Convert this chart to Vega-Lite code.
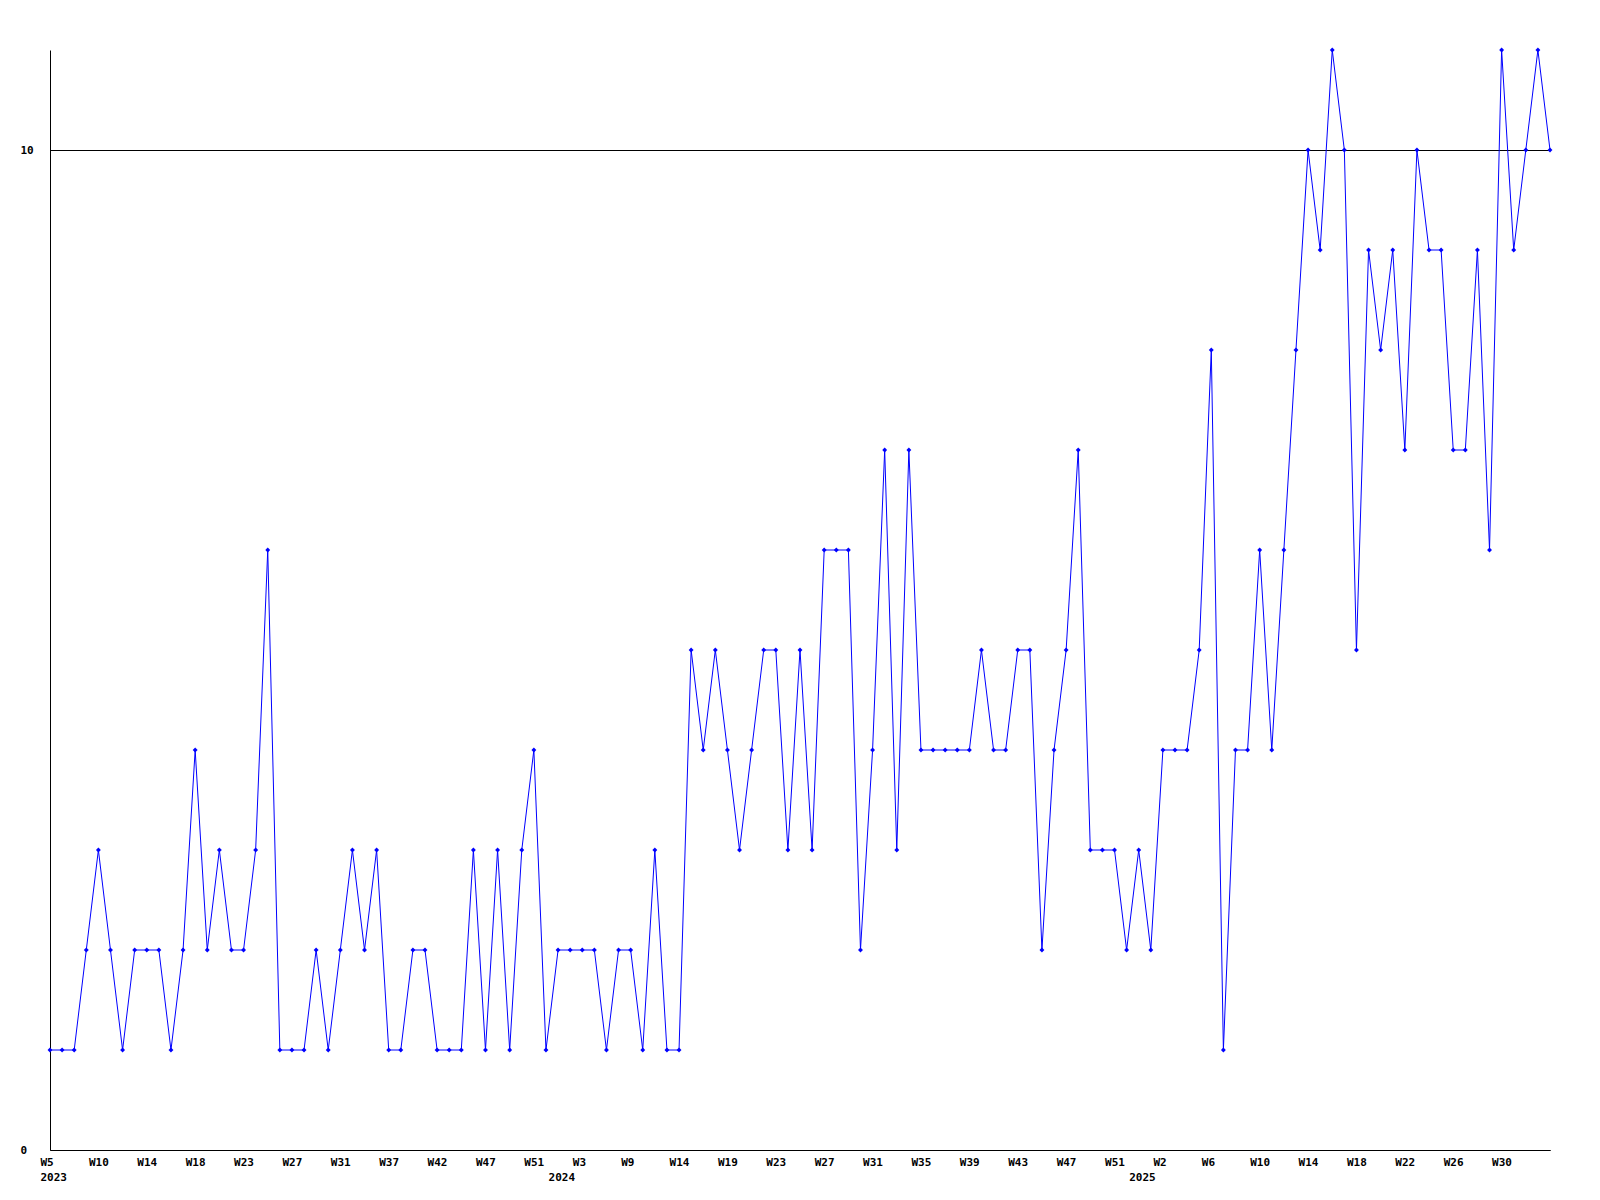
{
  "$schema": "https://vega.github.io/schema/vega-lite/v6.json",
  "width": 1500,
  "height": 1100,
  "padding": {"left": 50, "top": 50, "right": 50, "bottom": 50},
  "autosize": {"type": "none"},
  "background": "white",
  "config": {
    "view": {"stroke": null},
    "axis": {
      "labelFont": "DejaVu Sans Mono",
      "labelFontWeight": "bold",
      "labelFontSize": 11,
      "labelColor": "black",
      "domainColor": "black",
      "domainWidth": 1,
      "ticks": false,
      "tickSize": 0,
      "title": null,
      "grid": false
    }
  },
  "data": {
    "values": [
      {"w": "2023-W05", "v": 1}, {"w": "2023-W06", "v": 1}, {"w": "2023-W07", "v": 1}, {"w": "2023-W08", "v": 2},
      {"w": "2023-W10", "v": 3}, {"w": "2023-W11", "v": 2}, {"w": "2023-W12", "v": 1}, {"w": "2023-W13", "v": 2},
      {"w": "2023-W14", "v": 2}, {"w": "2023-W15", "v": 2}, {"w": "2023-W16", "v": 1}, {"w": "2023-W17", "v": 2},
      {"w": "2023-W18", "v": 4}, {"w": "2023-W19", "v": 2}, {"w": "2023-W20", "v": 3}, {"w": "2023-W21", "v": 2},
      {"w": "2023-W23", "v": 2}, {"w": "2023-W24", "v": 3}, {"w": "2023-W25", "v": 6}, {"w": "2023-W26", "v": 1},
      {"w": "2023-W27", "v": 1}, {"w": "2023-W28", "v": 1}, {"w": "2023-W29", "v": 2}, {"w": "2023-W30", "v": 1},
      {"w": "2023-W31", "v": 2}, {"w": "2023-W32", "v": 3}, {"w": "2023-W33", "v": 2}, {"w": "2023-W34", "v": 3},
      {"w": "2023-W37", "v": 1}, {"w": "2023-W38", "v": 1}, {"w": "2023-W39", "v": 2}, {"w": "2023-W40", "v": 2},
      {"w": "2023-W42", "v": 1}, {"w": "2023-W43", "v": 1}, {"w": "2023-W44", "v": 1}, {"w": "2023-W45", "v": 3},
      {"w": "2023-W47", "v": 1}, {"w": "2023-W48", "v": 3}, {"w": "2023-W49", "v": 1}, {"w": "2023-W50", "v": 3},
      {"w": "2023-W51", "v": 4}, {"w": "2023-W52", "v": 1}, {"w": "2024-W01", "v": 2}, {"w": "2024-W02", "v": 2},
      {"w": "2024-W03", "v": 2}, {"w": "2024-W04", "v": 2}, {"w": "2024-W05", "v": 1}, {"w": "2024-W06", "v": 2},
      {"w": "2024-W09", "v": 2}, {"w": "2024-W10", "v": 1}, {"w": "2024-W11", "v": 3}, {"w": "2024-W12", "v": 1},
      {"w": "2024-W14", "v": 1}, {"w": "2024-W15", "v": 5}, {"w": "2024-W16", "v": 4}, {"w": "2024-W17", "v": 5},
      {"w": "2024-W19", "v": 4}, {"w": "2024-W20", "v": 3}, {"w": "2024-W21", "v": 4}, {"w": "2024-W22", "v": 5},
      {"w": "2024-W23", "v": 5}, {"w": "2024-W24", "v": 3}, {"w": "2024-W25", "v": 5}, {"w": "2024-W26", "v": 3},
      {"w": "2024-W27", "v": 6}, {"w": "2024-W28", "v": 6}, {"w": "2024-W29", "v": 6}, {"w": "2024-W30", "v": 2},
      {"w": "2024-W31", "v": 4}, {"w": "2024-W32", "v": 7}, {"w": "2024-W33", "v": 3}, {"w": "2024-W34", "v": 7},
      {"w": "2024-W35", "v": 4}, {"w": "2024-W36", "v": 4}, {"w": "2024-W37", "v": 4}, {"w": "2024-W38", "v": 4},
      {"w": "2024-W39", "v": 4}, {"w": "2024-W40", "v": 5}, {"w": "2024-W41", "v": 4}, {"w": "2024-W42", "v": 4},
      {"w": "2024-W43", "v": 5}, {"w": "2024-W44", "v": 5}, {"w": "2024-W45", "v": 2}, {"w": "2024-W46", "v": 4},
      {"w": "2024-W47", "v": 5}, {"w": "2024-W48", "v": 7}, {"w": "2024-W49", "v": 3}, {"w": "2024-W50", "v": 3},
      {"w": "2024-W51", "v": 3}, {"w": "2024-W52", "v": 2}, {"w": "2025-W00", "v": 3}, {"w": "2025-W01", "v": 2},
      {"w": "2025-W02", "v": 4}, {"w": "2025-W03", "v": 4}, {"w": "2025-W04", "v": 4}, {"w": "2025-W05", "v": 5},
      {"w": "2025-W06", "v": 8}, {"w": "2025-W07", "v": 1}, {"w": "2025-W08", "v": 4}, {"w": "2025-W09", "v": 4},
      {"w": "2025-W10", "v": 6}, {"w": "2025-W11", "v": 4}, {"w": "2025-W12", "v": 6}, {"w": "2025-W13", "v": 8},
      {"w": "2025-W14", "v": 10}, {"w": "2025-W15", "v": 9}, {"w": "2025-W16", "v": 11}, {"w": "2025-W17", "v": 10},
      {"w": "2025-W18", "v": 5}, {"w": "2025-W19", "v": 9}, {"w": "2025-W20", "v": 8}, {"w": "2025-W21", "v": 9},
      {"w": "2025-W22", "v": 7}, {"w": "2025-W23", "v": 10}, {"w": "2025-W24", "v": 9}, {"w": "2025-W25", "v": 9},
      {"w": "2025-W26", "v": 7}, {"w": "2025-W27", "v": 7}, {"w": "2025-W28", "v": 9}, {"w": "2025-W29", "v": 6},
      {"w": "2025-W30", "v": 11}, {"w": "2025-W31", "v": 9}, {"w": "2025-W32", "v": 10}, {"w": "2025-W33", "v": 11},
      {"w": "2025-W34", "v": 10}
    ]
  },
  "encoding": {
    "y": {
      "field": "v",
      "type": "quantitative",
      "scale": {"domain": [0, 11], "nice": false, "zero": true},
      "axis": {
        "values": [0, 10],
        "grid": true,
        "gridColor": "black",
        "gridOpacity": 1,
        "gridWidth": 1,
        "labelAlign": "left",
        "labelBaseline": "middle",
        "labelPadding": 30
      }
    }
  },
  "layer": [
    {
      "mark": {"type": "line", "color": "#0000ff", "strokeWidth": 1},
      "encoding": {
        "x": {
          "field": "w",
          "type": "ordinal",
          "scale": {"type": "point", "padding": 0},
          "axis": {
            "values": ["2023-W05", "2023-W10", "2023-W14", "2023-W18", "2023-W23", "2023-W27", "2023-W31", "2023-W37", "2023-W42", "2023-W47", "2023-W51", "2024-W03", "2024-W09", "2024-W14", "2024-W19", "2024-W23", "2024-W27", "2024-W31", "2024-W35", "2024-W39", "2024-W43", "2024-W47", "2024-W51", "2025-W02", "2025-W06", "2025-W10", "2025-W14", "2025-W18", "2025-W22", "2025-W26", "2025-W30"],
            "labelExpr": "'W' + toNumber(slice(datum.value, 6))",
            "labelAlign": "left",
            "labelBaseline": "middle",
            "labelOffset": -10,
            "labelPadding": 12,
            "labelAngle": 0,
            "orient": "bottom"
          }
        }
      }
    },
    {
      "mark": {"type": "point", "shape": "diamond", "filled": true, "size": 24, "color": "#0000ff", "opacity": 1},
      "encoding": {
        "x": {
          "field": "w",
          "type": "ordinal",
          "scale": {"type": "point", "padding": 0},
          "axis": {
            "values": ["2023-W05", "2024-W01", "2025-W00"],
            "labelExpr": "slice(datum.value, 0, 4)",
            "domain": false,
            "labelAlign": "left",
            "labelBaseline": "middle",
            "labelOffset": -10,
            "labelPadding": 27,
            "labelAngle": 0,
            "orient": "bottom"
          }
        }
      }
    }
  ],
  "resolve": {"axis": {"x": "independent"}}
}
